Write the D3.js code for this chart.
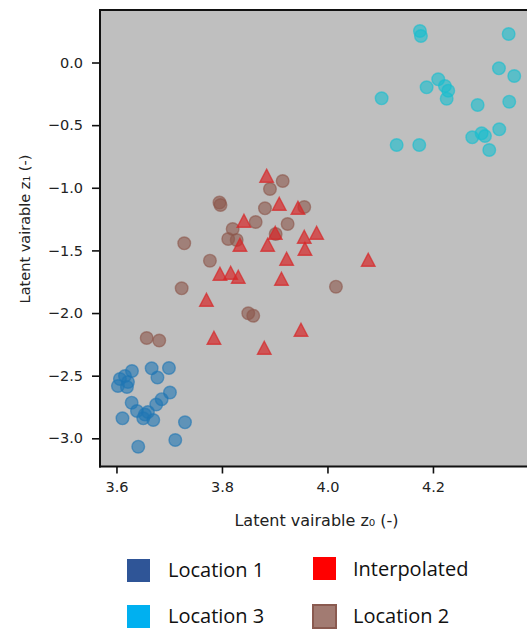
<!DOCTYPE html>
<html>
<head>
<meta charset="utf-8">
<script src="https://cdn.jsdelivr.net/npm/d3@7"></script>
<style>
  html, body { margin: 0; padding: 0; background: #ffffff; }
  svg { display: block; }
</style>
</head>
<body>
<svg id="chart" width="527" height="629"></svg>
<script>
// ---- Data ----
const location1X = [3.6294, 3.6161, 3.6066, 3.6218, 3.6028, 3.6199, 3.6667, 3.6777, 3.6995, 3.6288, 3.6389, 3.6114, 3.6540, 3.6508, 3.6698, 3.6754, 3.6857, 3.7014, 3.7299, 3.7115, 3.6413, 3.6597];
const location1Y = [-2.4627, -2.5026, -2.5266, -2.5505, -2.5824, -2.5904, -2.4411, -2.5146, -2.4387, -2.7157, -2.7820, -2.8403, -2.8099, -2.8403, -2.8539, -2.7301, -2.6878, -2.6343, -2.8722, -3.0135, -3.0670, -2.7900];

const location3X = [4.1753, 4.1772, 4.3435, 4.3251, 4.3541, 4.2100, 4.1880, 4.2227, 4.2290, 4.2260, 4.1027, 4.2847, 4.3446, 4.3257, 4.2745, 4.2923, 4.2986, 4.3067, 4.1312, 4.1740];
const location3Y = [0.2515, 0.2115, 0.2275, -0.0463, -0.1078, -0.1341, -0.1980, -0.1876, -0.2251, -0.2890, -0.2858, -0.3393, -0.3129, -0.5333, -0.5971, -0.5652, -0.5867, -0.6985, -0.6586, -0.6586];

const location2X = [3.9151, 3.8910, 3.7953, 3.7972, 3.8815, 3.9560, 3.8639, 3.9245, 3.8203, 3.8119, 3.8279, 3.9018, 3.7285, 3.7772, 3.7236, 4.0161, 3.8499, 3.8593, 3.6573, 3.6811];
const location2Y = [-0.9460, -1.0098, -1.1176, -1.1375, -1.1639, -1.1535, -1.2733, -1.2892, -1.3291, -1.4090, -1.4170, -1.3690, -1.4433, -1.5822, -1.8025, -1.7897, -2.0021, -2.0212, -2.1993, -2.2192];

const interpolatedX = [3.8847, 3.9086, 3.9441, 3.8417, 3.9010, 3.9560, 3.9795, 3.8341, 3.8866, 3.9573, 3.9226, 4.0773, 3.7962, 3.8165, 3.8309, 3.9128, 3.7706, 3.9498, 3.7848, 3.8802];
const interpolatedY = [-0.9060, -1.1296, -1.1615, -1.2653, -1.3611, -1.3930, -1.3611, -1.4569, -1.4569, -1.4888, -1.5686, -1.5766, -1.6884, -1.6804, -1.7123, -1.7283, -1.8959, -2.1354, -2.1993, -2.2791];

const xTicks = [3.6, 3.8, 4.0, 4.2];
const yTicks = [0.0, -0.5, -1.0, -1.5, -2.0, -2.5, -3.0];

const xLabel = "Latent vairable z\u2080 (-)";
const yLabel = "Latent vairable z\u2081 (-)";

const legendLabels = ["Location 1", "Interpolated", "Location 3", "Location 2"];

// ---- Layout ----
const svg = d3.select("#chart");
const plot = { left: 100, top: 10, bottom: 466.5 };

const x = d3.scaleLinear().domain([3.5688, 4.4]).range([plot.left, plot.left + 0.8312 * 527.5]);
const y = d3.scaleLinear().domain([-3.225, 0.4191]).range([plot.bottom, plot.top]);

const plotRight = x.range()[1];

svg.append("rect")
  .attr("x", plot.left).attr("y", plot.top)
  .attr("width", plotRight - plot.left).attr("height", plot.bottom - plot.top)
  .attr("fill", "#bfbfbf");

// Series
function zip(xs, ys) { return xs.map((v, i) => ({ x: v, y: ys[i] })); }

const circleSeries = [
  { data: zip(location1X, location1Y), color: "#1f77b4" },
  { data: zip(location3X, location3Y), color: "#17becf" },
  { data: zip(location2X, location2Y), color: "#8c564b" }
];

const marks = svg.append("g");
circleSeries.forEach(s => {
  marks.append("g").selectAll("circle")
    .data(s.data).join("circle")
    .attr("cx", d => x(d.x)).attr("cy", d => y(d.y))
    .attr("r", 6.3)
    .attr("fill", s.color).attr("fill-opacity", 0.6)
    .attr("stroke", s.color).attr("stroke-opacity", 0.6).attr("stroke-width", 1.4);
});

const tri = "M0,-6.8L6.8,6.2L-6.8,6.2Z";
marks.append("g").selectAll("path")
  .data(zip(interpolatedX, interpolatedY)).join("path")
  .attr("d", tri)
  .attr("transform", d => `translate(${x(d.x)},${y(d.y)})`)
  .attr("fill", "#d62728").attr("fill-opacity", 0.7)
  .attr("stroke", "#d62728").attr("stroke-opacity", 0.7).attr("stroke-width", 1.4);

// Axes
const fmt = d3.format(".1f");
const xAxis = svg.append("g")
  .attr("transform", `translate(0,${plot.bottom})`)
  .call(d3.axisBottom(x).tickValues(xTicks).tickFormat(fmt).tickSize(7).tickPadding(8));
const yAxis = svg.append("g")
  .attr("transform", `translate(${plot.left},0)`)
  .call(d3.axisLeft(y).tickValues(yTicks).tickFormat(fmt).tickSize(8).tickPadding(9));

[xAxis, yAxis].forEach(a => {
  a.select(".domain").remove();
  a.selectAll(".tick line").attr("stroke", "#111").attr("stroke-width", 1.6);
  a.selectAll(".tick text")
    .attr("font-family", "DejaVu Sans, sans-serif")
    .attr("font-size", 14.5).attr("fill", "#222");
});

// Spines
svg.append("line").attr("x1", plot.left).attr("x2", plot.left)
  .attr("y1", plot.top - 1).attr("y2", plot.bottom + 1)
  .attr("stroke", "#111").attr("stroke-width", 2);
svg.append("line").attr("x1", plot.left - 1).attr("x2", plotRight)
  .attr("y1", plot.top).attr("y2", plot.top)
  .attr("stroke", "#111").attr("stroke-width", 2);
svg.append("line").attr("x1", plot.left - 1).attr("x2", plotRight)
  .attr("y1", plot.bottom).attr("y2", plot.bottom)
  .attr("stroke", "#111").attr("stroke-width", 2);

// Axis labels
svg.append("text")
  .attr("x", 316.5).attr("y", 526)
  .attr("text-anchor", "middle")
  .attr("font-family", "DejaVu Sans, sans-serif").attr("font-size", 16).attr("fill", "#222")
  .text(xLabel);

svg.append("text")
  .attr("transform", "translate(30,229) rotate(-90)")
  .attr("text-anchor", "middle")
  .attr("font-family", "DejaVu Sans, sans-serif").attr("font-size", 14.5).attr("fill", "#222")
  .text(yLabel);

// Legend
const legendItems = [
  { label: legendLabels[0], fill: "#2f5597", stroke: "none", sx: 127, sy: 559, tx: 168, ty: 577 },
  { label: legendLabels[1], fill: "#ff0000", stroke: "none", sx: 313, sy: 557, tx: 353, ty: 576 },
  { label: legendLabels[2], fill: "#00b0f0", stroke: "none", sx: 127, sy: 605, tx: 168, ty: 623 },
  { label: legendLabels[3], fill: "#a27b72", stroke: "#8a5a50", sx: 313, sy: 605, tx: 353, ty: 623 }
];
const lg = svg.append("g");
legendItems.forEach(it => {
  lg.append("rect")
    .attr("x", it.sx).attr("y", it.sy).attr("width", 23).attr("height", 23)
    .attr("fill", it.fill)
    .attr("stroke", it.stroke).attr("stroke-width", it.stroke === "none" ? 0 : 2);
  lg.append("text")
    .attr("x", it.tx).attr("y", it.ty)
    .attr("font-family", "Open Sans, sans-serif").attr("font-size", 20).attr("fill", "#111")
    .text(it.label);
});
</script>
</body>
</html>
